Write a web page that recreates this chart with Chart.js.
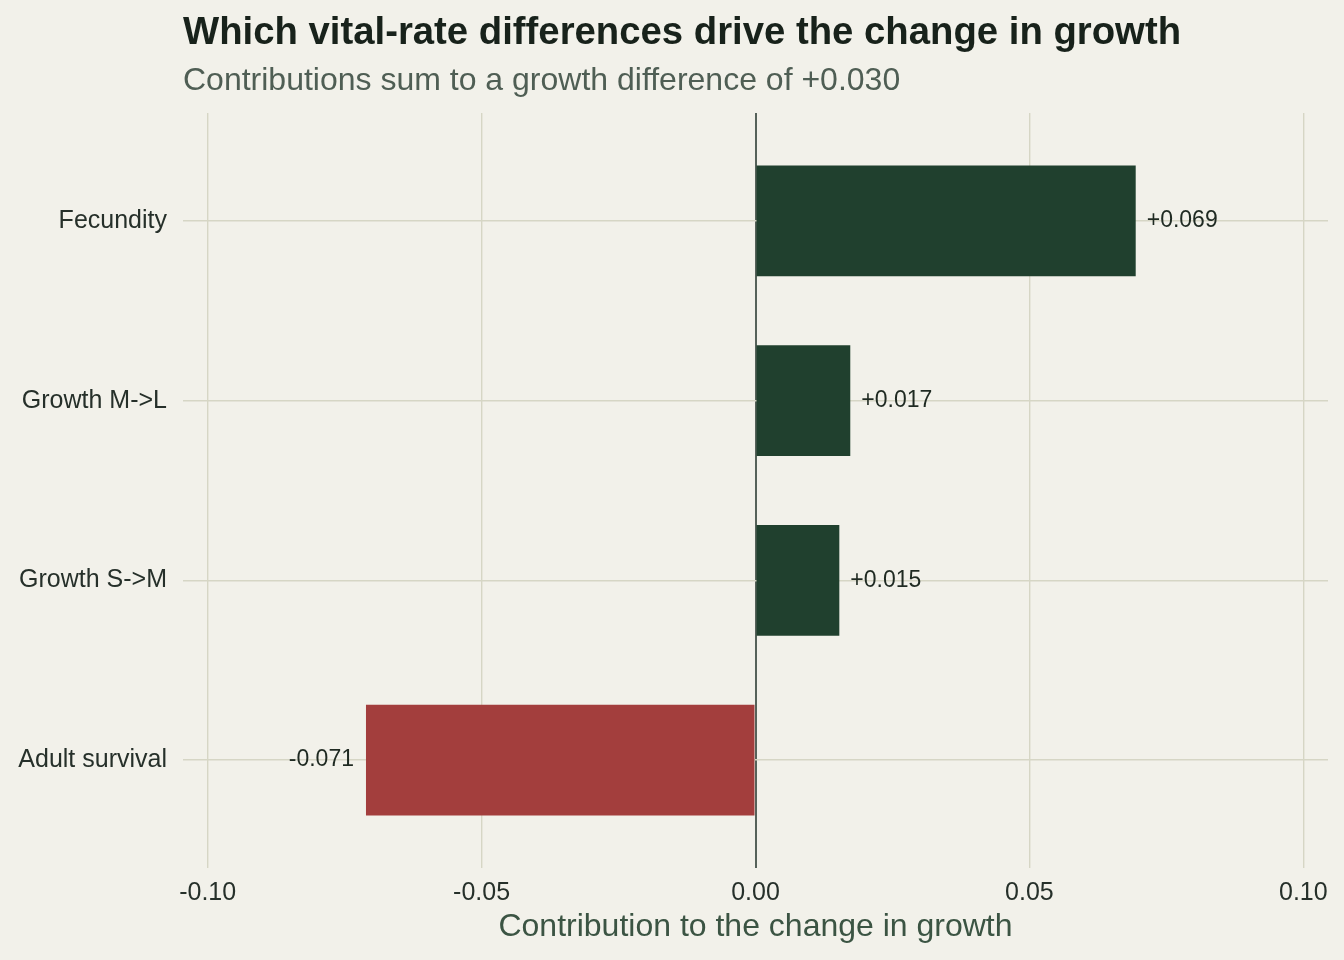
<!DOCTYPE html>
<html>
<head>
<meta charset="utf-8">
<title>Vital-rate contributions</title>
<script src="https://cdn.jsdelivr.net/npm/chart.js@4.4.1/dist/chart.umd.min.js"></script>
<style>
  html, body { margin: 0; padding: 0; background: #f2f1ea; }
  #wrap { width: 1344px; height: 960px; position: relative; }
</style>
</head>
<body>
<div id="wrap"><canvas id="contribChart"></canvas></div>
<script>
'use strict'

// Vital rates, top to bottom
const categories = ['Fecundity', 'Growth M->L', 'Growth S->M', 'Adult survival']
// Contribution of each vital rate to the change in growth
const contributions = [0.0694, 0.0173, 0.0153, -0.0711]
// Ticks on the contribution axis
const xTicks = [-0.10, -0.05, 0, 0.05, 0.10]

const titleText = 'Which vital-rate differences drive the change in growth'
const subtitleText = 'Contributions sum to a growth difference of +0.030'

const FONT = "'Liberation Sans', Arial, Helvetica, sans-serif"
const POS_COLOR = '#20402e'
const NEG_COLOR = '#a33e3d'
const GRID_COLOR = '#d6d6c5'
const ZERO_COLOR = '#56625a'

// categories sit at 1..n on a reversed linear axis so the padding matches ggplot
const points = categories.map((c, i) => ({x: contributions[i], y: i + 1}))

// Title and subtitle, left aligned with the plot panel
const headingPlugin = {
  id: 'heading',
  afterDraw(chart) {
    const ctx = chart.ctx
    const left = chart.chartArea.left
    ctx.save()
    ctx.textAlign = 'left'
    ctx.textBaseline = 'alphabetic'
    ctx.fillStyle = '#18221b'
    ctx.font = `bold 38.3px ${FONT}`
    ctx.fillText(titleText, left, 44)
    ctx.fillStyle = '#4f5e54'
    ctx.font = `32px ${FONT}`
    ctx.fillText(subtitleText, left, 90)
    ctx.restore()
  }
}

// Signed value labels at the end of each bar
const valueLabelPlugin = {
  id: 'valueLabels',
  afterDatasetsDraw(chart) {
    const ctx = chart.ctx
    const meta = chart.getDatasetMeta(0)
    ctx.save()
    ctx.font = `23px ${FONT}`
    ctx.fillStyle = '#1f2a22'
    ctx.textBaseline = 'middle'
    meta.data.forEach((bar, i) => {
      const v = contributions[i]
      const txt = (v > 0 ? '+' : '') + v.toFixed(3)
      if (v >= 0) {
        ctx.textAlign = 'left'
        ctx.fillText(txt, bar.x + 11, bar.y)
      } else {
        ctx.textAlign = 'right'
        ctx.fillText(txt, bar.x - 12, bar.y)
      }
    })
    ctx.restore()
  }
}

const contribChart = new Chart(
  document.getElementById('contribChart'),
  {
    type: 'bar',
    data: {
      datasets: [
        {
          label: 'Contribution',
          data: points,
          backgroundColor: contributions.map(v => v >= 0 ? POS_COLOR : NEG_COLOR),
          borderWidth: 0,
          barPercentage: 0.615,
          categoryPercentage: 1
        }
      ]
    },
    options: {
      indexAxis: 'y',
      responsive: true,
      maintainAspectRatio: false,
      animation: false,
      layout: {
        padding: {top: 113, right: 16, bottom: 0, left: 0}
      },
      scales: {
        x: {
          type: 'linear',
          min: -0.1045,
          max: 0.1045,
          afterBuildTicks: (scale) => {
            scale.ticks = xTicks.map(v => ({value: v}))
          },
          afterFit: (scale) => {
            scale.height = 92
          },
          border: {display: false},
          grid: {
            drawTicks: false,
            color: (ctx) => ctx.tick && ctx.tick.value === 0 ? ZERO_COLOR : GRID_COLOR,
            lineWidth: (ctx) => ctx.tick && ctx.tick.value === 0 ? 2 : 1.4
          },
          ticks: {
            padding: 10,
            color: '#26302a',
            font: {family: FONT, size: 25},
            callback: (value) => Number(value).toFixed(2)
          },
          title: {
            display: true,
            text: 'Contribution to the change in growth',
            color: '#3b5443',
            font: {family: FONT, size: 32},
            padding: {top: 0, bottom: 14}
          }
        },
        y: {
          type: 'linear',
          reverse: true,
          offset: false,
          min: 0.4,
          max: categories.length + 0.6,
          afterBuildTicks: (scale) => {
            scale.ticks = categories.map((c, i) => ({value: i + 1}))
          },
          afterFit: (scale) => {
            scale.width = 183
          },
          border: {display: false},
          grid: {
            offset: false,
            drawTicks: false,
            color: GRID_COLOR,
            lineWidth: 1.4
          },
          ticks: {
            padding: 16,
            color: '#26302a',
            font: {family: FONT, size: 25},
            callback: (value) => categories[Math.round(value) - 1]
          }
        }
      },
      plugins: {
        legend: {display: false},
        tooltip: {enabled: false}
      }
    },
    plugins: [headingPlugin, valueLabelPlugin]
  }
)
</script>
</body>
</html>
